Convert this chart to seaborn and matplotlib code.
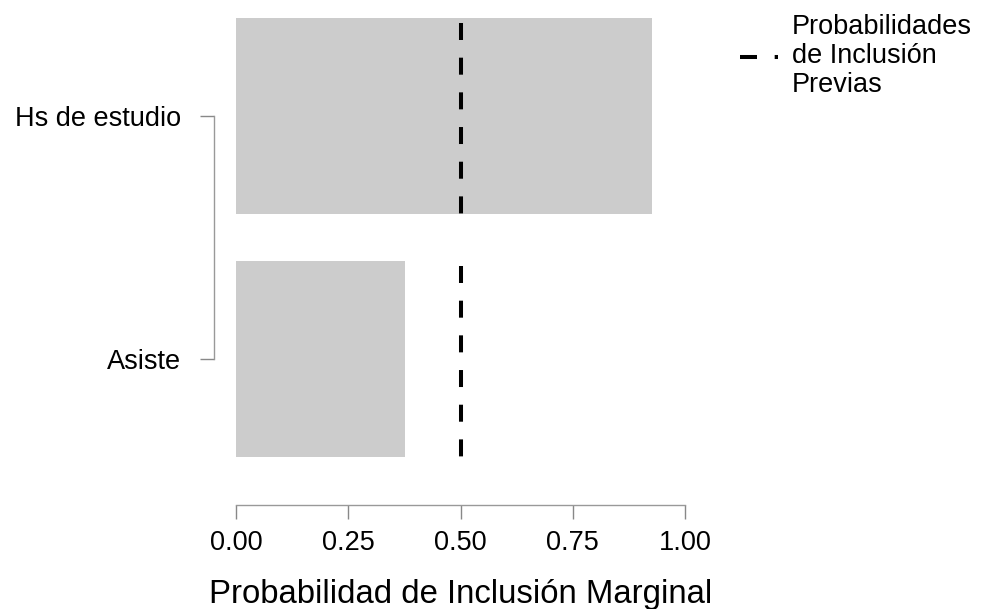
import matplotlib
matplotlib.use("Agg")
import matplotlib.pyplot as plt
import seaborn as sns
import pandas as pd

variables = ["Hs de estudio", "Asiste"]
inclusion_prob = [0.927, 0.376]
prior_prob = [0.5, 0.5]
xticks = [0.00, 0.25, 0.50, 0.75, 1.00]
xtick_labels = ["0.00", "0.25", "0.50", "0.75", "1.00"]

sns.set_theme(style="white")
plt.rcParams["font.family"] = ["Liberation Sans", "DejaVu Sans"]
plt.rcParams["text.color"] = "black"

W, H = 981, 609
fig = plt.figure(figsize=(W / 100, H / 100), dpi=100)
ax = fig.add_axes([236 / W, (H - 457) / H, 449 / W, 439 / H])

df = pd.DataFrame({"variable": variables, "prob": inclusion_prob})
bw = 0.81
sns.barplot(data=df, y="variable", x="prob", orient="h", order=variables,
            color="#cccccc", saturation=1, width=bw, ax=ax, edgecolor="none")

lw = 2.9
on, off = 4.22, 4.39
for i, p in enumerate(prior_prob):
    ax.vlines(p, i - bw / 2, i + bw / 2, colors="black", linewidth=lw,
              linestyles=[(on + off - 1.24, (on, off))],
              label="Probabilidades\nde Inclusión\nPrevias" if i == 0 else None)

ax.set_xlim(0, 1)
ax.set_ylim(len(variables) - 1 + bw / 2, -bw / 2)

ax.spines["top"].set_visible(False)
ax.spines["right"].set_visible(False)
ax.spines["left"].set_position(("outward", 15.8))
ax.spines["bottom"].set_position(("outward", 34.6))
ax.spines["left"].set_bounds(0, len(variables) - 1)
ax.spines["bottom"].set_bounds(0, 1)
for s in ["left", "bottom"]:
    ax.spines[s].set_color("#999999")
    ax.spines[s].set_linewidth(1.0)

ax.set_xticks(xticks)
ax.set_xticklabels(xtick_labels)
ax.tick_params(axis="both", which="major", direction="out", length=10,
               width=1.0, color="#888888", labelsize=19.5, labelcolor="black",
               bottom=True, left=True)
ax.tick_params(axis="y", pad=14)
ax.tick_params(axis="x", pad=8)
ax.set_ylabel("")
ax.set_xlabel("Probabilidad de Inclusión Marginal", fontsize=23.7, labelpad=16.5,
              color="black")

fs = 19.5
leg = fig.legend(loc="center left", bbox_to_anchor=(740 / W, 1 - 56 / H),
                 frameon=False, fontsize=fs, handlelength=38 / (fs * 100 / 72),
                 handletextpad=14 / (fs * 100 / 72), borderpad=0, borderaxespad=0)
for t in leg.get_texts():
    t.set_linespacing(1.13)
    t.set_color("black")
for h in leg.legend_handles:
    h.set_linestyle((0, (on, off)))

fig.savefig("out.png", dpi=100)
